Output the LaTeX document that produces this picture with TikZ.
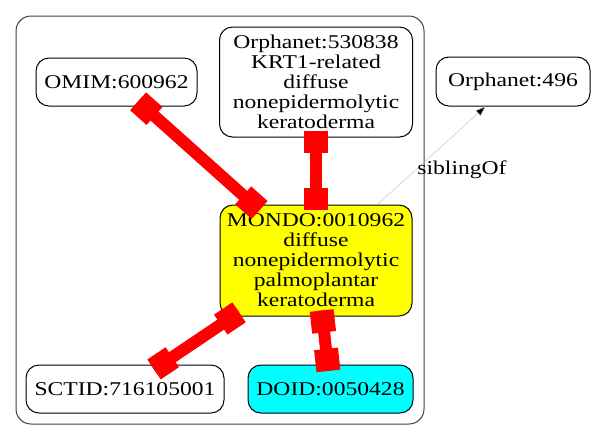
\documentclass[tikz,border=0pt]{standalone}
\usepackage{fontspec}
\setmainfont[FakeStretch=1.21]{Liberation Serif}
\usetikzlibrary{calc,arrows.meta}
\definecolor{gvyellow}{RGB}{255,255,0}
\definecolor{gvcyan}{RGB}{0,255,255}
\definecolor{gvred}{RGB}{255,0,0}
\begin{document}
\begin{tikzpicture}[x=1pt,y=-1pt,
  nodebox/.style={draw=black,line width=1pt,rounded corners=13pt,inner sep=0pt,align=center,
    font=\fontsize{19.5}{20}\selectfont},
  lbl/.style={inner sep=0pt,font=\fontsize{19.5}{20}\selectfont},
  clusterbox/.style={draw=black!75,line width=1pt,rounded corners=15pt},
  redshaft/.style={draw=gvred,line width=12pt},
  redend/.style={draw=gvred,line width=24pt},
  sib/.style={draw=black!25,line width=0.4pt,-{Triangle[length=10pt,width=7pt,fill=black]}}]
\useasboundingbox (0,0) rectangle (596,440);
\fill[white] (0,0) rectangle (596,440);
\draw[clusterbox] (16,16) rectangle (424,424);
\node[nodebox,minimum width=161pt,minimum height=48pt] (omim) at (116.5,82) {OMIM:600962};
\node[nodebox,minimum width=193pt,minimum height=110pt] (orph) at (316,82)
  {Orphanet:530838\\KRT1-related\\diffuse\\nonepidermolytic\\keratoderma};
\node[nodebox,fill=gvyellow,minimum width=192pt,minimum height=111pt] (mondo) at (316,260.5)
  {MONDO:0010962\\diffuse\\nonepidermolytic\\palmoplantar\\keratoderma};
\node[nodebox,minimum width=198pt,minimum height=48pt] (sctid) at (125,389) {SCTID:716105001};
\node[nodebox,fill=gvcyan,minimum width=165pt,minimum height=48pt] (doid) at (330.5,389) {DOID:0050428};
\node[nodebox,minimum width=154pt,minimum height=49pt] (o496) at (513,81.5) {Orphanet:496};
\draw[sib] (mondo) -- node[lbl,pos=0.5,xshift=30.5pt,yshift=-14.5pt] (siblbl) {siblingOf} (o496);
\newcommand\rededge[4]{%
  \coordinate (ra) at ($(#1.center)!#2!(#3.center)$);
  \coordinate (rb) at ($(#3.center)!#4!(#1.center)$);
  \draw[redshaft] (ra) -- (rb);
  \draw[redend] (ra) -- ($(ra)!22pt!(rb)$);
  \draw[redend] (rb) -- ($(rb)!22pt!(ra)$);}
\rededge{omim}{29pt}{mondo}{75.7pt}
\rededge{orph}{49pt}{mondo}{50.5pt}
\rededge{mondo}{92.8pt}{sctid}{35pt}
\rededge{mondo}{50.3pt}{doid}{18.3pt}
\end{tikzpicture}
\end{document}
